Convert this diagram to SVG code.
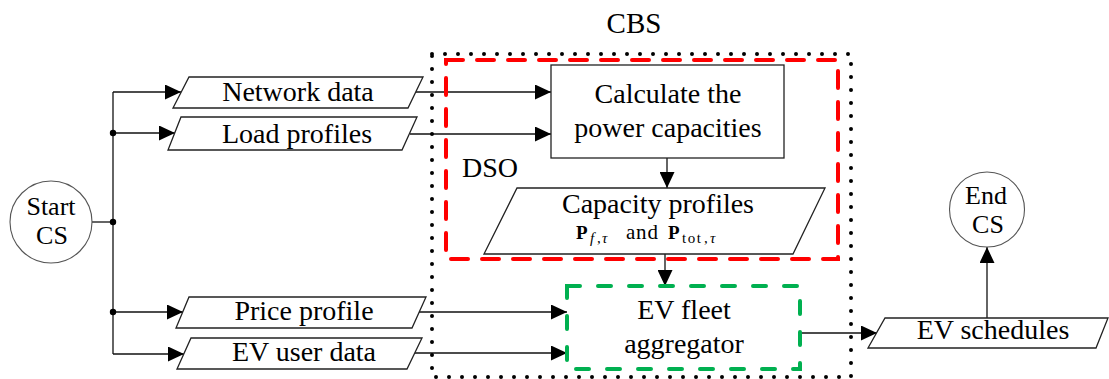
<svg xmlns="http://www.w3.org/2000/svg" width="1109" height="379" viewBox="0 0 1109 379">
<defs>
<marker id="ah" markerWidth="16" markerHeight="15" refX="16" refY="7.5" orient="auto" markerUnits="userSpaceOnUse">
<path d="M0,0 L16,7.5 L0,15 Z" fill="#000"/>
</marker>
<style>
.t{font-family:"Liberation Serif","Times New Roman",serif;font-size:28px;fill:#000;text-anchor:middle}
.ct{font-family:"Liberation Serif","Times New Roman",serif;font-size:26px;fill:#000;text-anchor:middle}
.m{font-family:"Liberation Serif","Times New Roman",serif;fill:#000}
.shape{fill:#fff;stroke:#222;stroke-width:1.3}
.circ{fill:#fff;stroke:#555;stroke-width:1.1}
.c{fill:none;stroke:#111;stroke-width:1.3}
.ca{fill:none;stroke:#111;stroke-width:1.3;marker-end:url(#ah)}
</style>
</defs>
<rect width="1109" height="379" fill="#fff"/>

<g id="connectors">
<line class="c" x1="92" y1="222" x2="113" y2="222"/>
<line class="c" x1="113" y1="92" x2="113" y2="354"/>
<path class="ca" d="M113,92 H181"/>
<path class="ca" d="M113,133 H175"/>
<path class="ca" d="M113,312 H183"/>
<path class="ca" d="M113,354 H184"/>
<circle cx="113" cy="133" r="3.2" fill="#000"/>
<circle cx="113" cy="222" r="3.2" fill="#000"/>
<circle cx="113" cy="312" r="3.2" fill="#000"/>
<path class="ca" d="M415,92 H551"/>
<path class="ca" d="M410,134 H551"/>
<path class="ca" d="M419,312 H567"/>
<path class="ca" d="M415,353 H567"/>
<path class="ca" d="M667,158 V188"/>
<path class="ca" d="M665,254 V286"/>
<path class="ca" d="M800,333 H877"/>
<path class="ca" d="M987,318 V247"/>
</g>

<g id="cbs">
<rect x="432" y="54" width="419" height="323" fill="none" stroke="#000" stroke-width="4" stroke-dasharray="0 13" stroke-linecap="round"/>
<text class="t" x="634" y="33" style="font-size:29px">CBS</text>
</g>

<g id="dso">
<rect x="446" y="60" width="392" height="199" fill="none" stroke="#ff0000" stroke-width="4" stroke-dasharray="17 14" stroke-linecap="round"/>
<text class="t" x="490" y="177">DSO</text>
</g>

<g id="start">
<circle class="circ" cx="51" cy="222" r="41"/>
<text class="ct" x="51" y="215">Start</text>
<text class="ct" x="52" y="244">CS</text>
</g>

<g id="network-data">
<polygon class="shape" points="189,77 423,77 408,108 173,108"/>
<text class="t" x="298" y="101">Network data</text>
</g>

<g id="load-profiles">
<polygon class="shape" points="181,117 417,117 402,150 168,150"/>
<text class="t" x="297" y="143">Load profiles</text>
</g>

<g id="price-profile">
<polygon class="shape" points="189,297 426,297 412,328 176,328"/>
<text class="t" x="304" y="320">Price profile</text>
</g>

<g id="ev-user-data">
<polygon class="shape" points="191,338 422,338 407,369 177,369"/>
<text class="t" x="304" y="361">EV user data</text>
</g>

<g id="calculate">
<rect class="shape" x="551" y="65" width="233" height="93"/>
<text class="t" x="668" y="103">Calculate the</text>
<text class="t" x="668" y="137">power capacities</text>
</g>

<g id="capacity-profiles">
<polygon class="shape" points="517,188 825,188 793,254 484,254"/>
<text class="t" x="658" y="213">Capacity profiles</text>
<text class="m" font-size="19"><tspan x="576" y="239" font-weight="bold">P</tspan><tspan x="590" y="243" font-size="15" font-style="italic">f</tspan><tspan x="597" y="243" font-size="15">,</tspan><tspan x="602" y="243" font-size="15" font-style="italic">τ</tspan><tspan x="626" y="239" font-size="21" letter-spacing="0.8">and</tspan><tspan x="668" y="239" font-weight="bold">P</tspan><tspan x="682" y="243" font-size="15" letter-spacing="1.5">tot</tspan><tspan x="704" y="243" font-size="15">,</tspan><tspan x="710" y="243" font-size="15" font-style="italic">τ</tspan></text>
</g>

<g id="ev-fleet-aggregator">
<rect x="567" y="286" width="233" height="83" fill="#fff" stroke="#00b050" stroke-width="4" stroke-dasharray="13 18" stroke-linecap="round"/>
<text class="t" x="684" y="319">EV fleet</text>
<text class="t" x="684" y="353">aggregator</text>
</g>

<g id="ev-schedules">
<polygon class="shape" points="885,318 1108,318 1096,348 868,348"/>
<text class="t" x="993" y="339">EV schedules</text>
</g>

<g id="end">
<circle class="circ" cx="987" cy="209.5" r="37.5"/>
<text class="ct" x="986" y="204">End</text>
<text class="ct" x="988" y="233">CS</text>
</g>
</svg>
